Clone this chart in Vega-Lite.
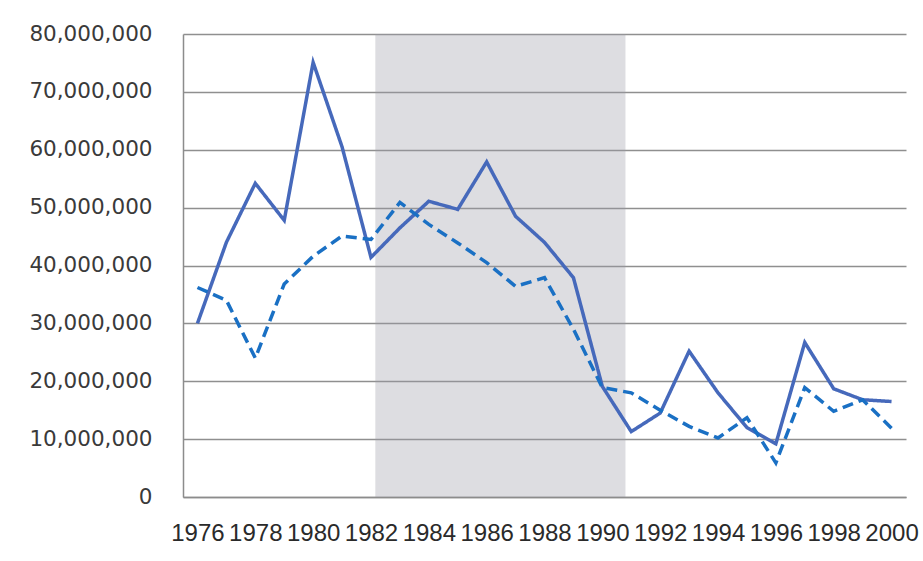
{
  "$schema": "https://vega.github.io/schema/vega-lite/v6.json",
  "autosize": "none",
  "width": 723,
  "height": 463,
  "padding": {"left": 183, "top": 34, "right": 17, "bottom": 64},
  "background": "white",
  "config": {
    "view": {"stroke": null},
    "axisY": {"labelFont": "DejaVu Sans", "labelFontSize": 21.5, "labelColor": "#3a3a3a", "labelPadding": 31, "ticks": false, "domain": true, "domainColor": "#8c8c8c", "domainWidth": 1.5, "grid": true, "gridColor": "#8f8f8f", "gridWidth": 1.5},
    "axisX": {"labelFont": "Liberation Sans", "labelFontSize": 24, "labelColor": "#2a2a2a", "labelPadding": 24, "ticks": false, "grid": false, "domain": true, "domainColor": "#8c8c8c", "domainWidth": 1.5, "labelOverlap": false, "labelFlush": false}
  },
  "datasets": {
    "shade": [{"start": 1982.15, "end": 1990.8, "low": 0, "high": 80000000}],
    "series": [
      {"year": 1976, "series": "A", "value": 30000000},
      {"year": 1977, "series": "A", "value": 44000000},
      {"year": 1978, "series": "A", "value": 54200000},
      {"year": 1979, "series": "A", "value": 47800000},
      {"year": 1980, "series": "A", "value": 75100000},
      {"year": 1981, "series": "A", "value": 60500000},
      {"year": 1982, "series": "A", "value": 41400000},
      {"year": 1983, "series": "A", "value": 46500000},
      {"year": 1984, "series": "A", "value": 51100000},
      {"year": 1985, "series": "A", "value": 49700000},
      {"year": 1986, "series": "A", "value": 57900000},
      {"year": 1987, "series": "A", "value": 48500000},
      {"year": 1988, "series": "A", "value": 44000000},
      {"year": 1989, "series": "A", "value": 37900000},
      {"year": 1990, "series": "A", "value": 19100000},
      {"year": 1991, "series": "A", "value": 11300000},
      {"year": 1992, "series": "A", "value": 14500000},
      {"year": 1993, "series": "A", "value": 25200000},
      {"year": 1994, "series": "A", "value": 18000000},
      {"year": 1995, "series": "A", "value": 12000000},
      {"year": 1996, "series": "A", "value": 9200000},
      {"year": 1997, "series": "A", "value": 26700000},
      {"year": 1998, "series": "A", "value": 18700000},
      {"year": 1999, "series": "A", "value": 16800000},
      {"year": 2000, "series": "A", "value": 16500000},
      {"year": 1976, "series": "B", "value": 36200000},
      {"year": 1977, "series": "B", "value": 34000000},
      {"year": 1978, "series": "B", "value": 24000000},
      {"year": 1979, "series": "B", "value": 36800000},
      {"year": 1980, "series": "B", "value": 41600000},
      {"year": 1981, "series": "B", "value": 45100000},
      {"year": 1982, "series": "B", "value": 44500000},
      {"year": 1983, "series": "B", "value": 50900000},
      {"year": 1984, "series": "B", "value": 47100000},
      {"year": 1985, "series": "B", "value": 43900000},
      {"year": 1986, "series": "B", "value": 40500000},
      {"year": 1987, "series": "B", "value": 36400000},
      {"year": 1988, "series": "B", "value": 37900000},
      {"year": 1989, "series": "B", "value": 29000000},
      {"year": 1990, "series": "B", "value": 18900000},
      {"year": 1991, "series": "B", "value": 18000000},
      {"year": 1992, "series": "B", "value": 15000000},
      {"year": 1993, "series": "B", "value": 12200000},
      {"year": 1994, "series": "B", "value": 10200000},
      {"year": 1995, "series": "B", "value": 13700000},
      {"year": 1996, "series": "B", "value": 5900000},
      {"year": 1997, "series": "B", "value": 18900000},
      {"year": 1998, "series": "B", "value": 14800000},
      {"year": 1999, "series": "B", "value": 16800000},
      {"year": 2000, "series": "B", "value": 11900000}
    ]
  },
  "layer": [
    {
      "data": {"name": "shade"},
      "mark": {"type": "rect", "color": "#9a9aa8", "opacity": 0.34},
      "encoding": {
        "x": {"field": "start", "type": "quantitative", "scale": {"domain": [1975.5, 2000.5], "nice": false, "zero": false}, "axis": {"title": null, "values": [1976, 1978, 1980, 1982, 1984, 1986, 1988, 1990, 1992, 1994, 1996, 1998, 2000], "format": "d"}},
        "x2": {"field": "end"},
        "y": {"field": "low", "type": "quantitative", "scale": {"domain": [0, 80000000], "nice": false}, "axis": {"title": null, "values": [0, 10000000, 20000000, 30000000, 40000000, 50000000, 60000000, 70000000, 80000000], "format": ",d"}},
        "y2": {"field": "high"}
      }
    },
    {
      "data": {"name": "series"},
      "mark": {"type": "line", "strokeWidth": 3.5, "strokeJoin": "miter"},
      "encoding": {
        "x": {"field": "year", "type": "quantitative"},
        "y": {"field": "value", "type": "quantitative"},
        "color": {"field": "series", "type": "nominal", "scale": {"domain": ["A", "B"], "range": ["#4669bb", "#1a70c4"]}, "legend": null},
        "strokeDash": {"field": "series", "type": "nominal", "scale": {"domain": ["A", "B"], "range": [[1, 0], [11, 6]]}, "legend": null},
        "strokeWidth": {"field": "series", "type": "nominal", "scale": {"domain": ["A", "B"], "range": [3.2, 3.8]}, "legend": null}
      }
    }
  ]
}
